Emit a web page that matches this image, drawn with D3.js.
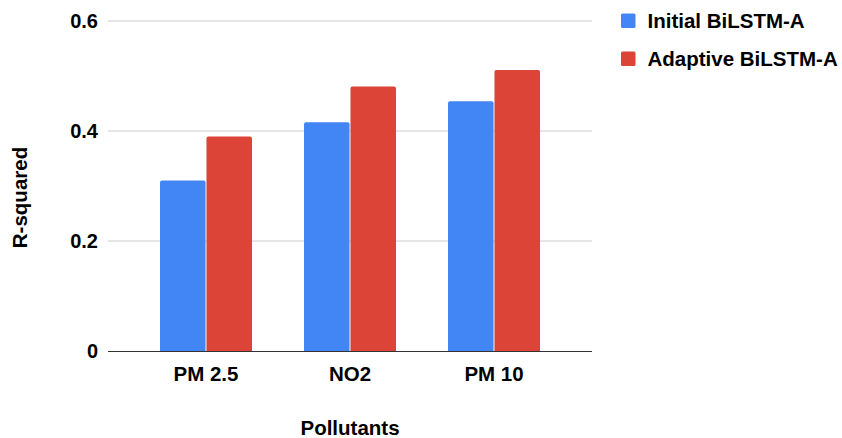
<!DOCTYPE html>
<html><head><meta charset="utf-8">
<script src="https://cdn.jsdelivr.net/npm/d3@7"></script>
<style>body{margin:0;background:#fff}svg{display:block}text{font-family:"Liberation Sans",Arial,sans-serif;font-weight:bold;fill:#000}</style>
</head><body><svg id="c" width="842" height="438"></svg>
<script>
const categories = ["PM 2.5", "NO2", "PM 10"];
const seriesNames = ["Initial BiLSTM-A", "Adaptive BiLSTM-A"];
const initialValues = [0.31, 0.416, 0.454];
const adaptiveValues = [0.39, 0.481, 0.511];
const yTicks = [0, 0.2, 0.4, 0.6];
const colors = ["#4285F4", "#DB4437"];
const xTitle = "Pollutants", yTitle = "R-squared";

const series = [initialValues, adaptiveValues];
const svg = d3.select("#c");
const gridL = 108, gridR = 592;
const y = d3.scaleLinear().domain([0, 0.6]).range([351, 21]);
const x0 = d3.scaleBand().domain(categories).range([134, 566]);
const x1 = d3.scaleBand().domain(d3.range(series.length)).range([-46, 46]).paddingInner(0.02);

// gridlines
svg.append("g").selectAll("line").data(yTicks.filter(d => d > 0)).join("line")
  .attr("x1", gridL).attr("x2", gridR).attr("y1", d => y(d)).attr("y2", d => y(d))
  .attr("stroke", "#cccccc").attr("stroke-width", 1);

// y tick labels
svg.append("g").selectAll("text").data(yTicks).join("text")
  .attr("x", 98).attr("y", d => y(d) + 7).attr("text-anchor", "end")
  .style("font-size", "20px").text(d => d === 0 ? "0" : d3.format(".1f")(d));

// bars
const r = 2;
function barPath(xl, w, yt, yb) {
  return `M${xl},${yb}V${yt + r}Q${xl},${yt} ${xl + r},${yt}H${xl + w - r}Q${xl + w},${yt} ${xl + w},${yt + r}V${yb}Z`;
}
categories.forEach((c, i) => {
  series.forEach((s, j) => {
    const xl = x0(c) + x0.bandwidth() / 2 + x1(j);
    svg.append("path").attr("d", barPath(xl, x1.bandwidth(), y(s[i]), y(0)))
      .attr("fill", colors[j]);
  });
});

// x axis line
svg.append("line").attr("x1", gridL).attr("x2", gridR).attr("y1", y(0) + 0.5).attr("y2", y(0) + 0.5)
  .attr("stroke", "#333").attr("stroke-width", 1);

// x tick labels
svg.append("g").selectAll("text").data(categories).join("text")
  .attr("x", d => x0(d) + x0.bandwidth() / 2).attr("y", 381).attr("text-anchor", "middle")
  .style("font-size", "20.5px").text(d => d);

// axis titles
svg.append("text").attr("x", 350).attr("y", 435).attr("text-anchor", "middle")
  .style("font-size", "20.5px").text(xTitle);
svg.append("text").attr("transform", "translate(27,197.5) rotate(-90)").attr("text-anchor", "middle")
  .style("font-size", "20.5px").text(yTitle);

// legend
const lg = svg.append("g");
seriesNames.forEach((n, i) => {
  const yy = 13.5 + i * 38;
  lg.append("rect").attr("x", 621).attr("y", yy).attr("width", 14.5).attr("height", 14.5)
    .attr("rx", 1.5).attr("fill", colors[i]);
  lg.append("text").attr("x", 647.5).attr("y", yy + 14.5).style("font-size", "20.5px").text(n);
});
</script></body></html>
